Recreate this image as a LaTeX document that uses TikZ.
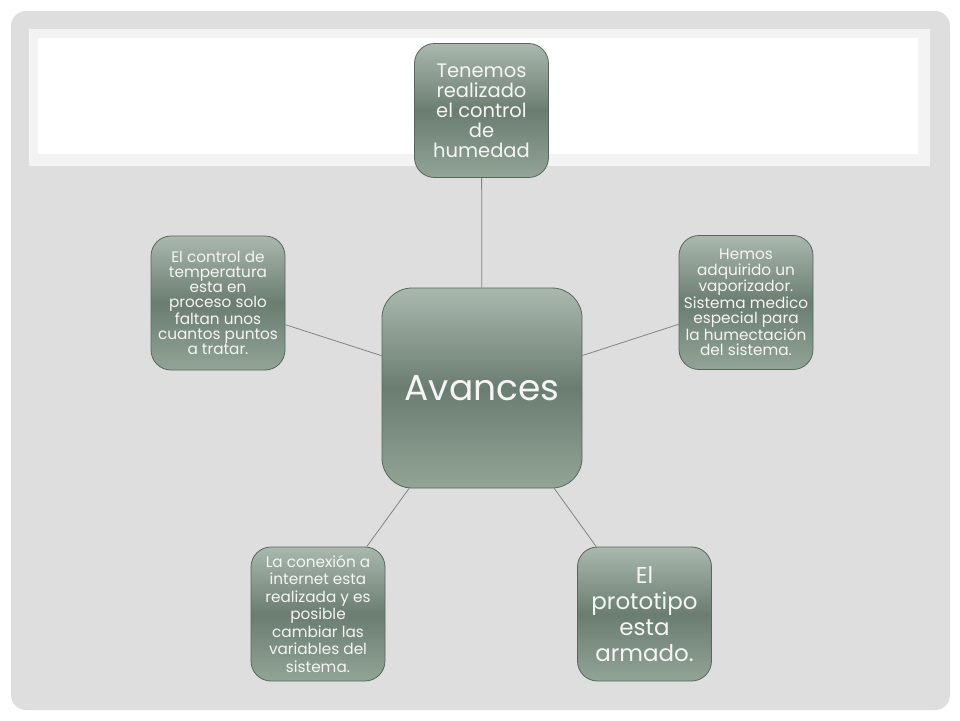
\documentclass[tikz,border=0pt]{standalone}
\usepackage{fontspec}
\setmainfont{Poppins}
\definecolor{bggray}{RGB}{222,222,222}
\definecolor{bandgray}{RGB}{243,243,243}
\definecolor{gTop}{RGB}{170,184,174}
\definecolor{gMid}{RGB}{107,125,113}
\definecolor{gBot}{RGB}{146,164,150}
\definecolor{boxedge}{RGB}{88,102,93}
\definecolor{linegray}{RGB}{125,135,130}
\definecolor{txt}{RGB}{245,245,245}
\begin{document}
\begin{tikzpicture}[x=1pt,y=-1pt,
  box/.style={draw=boxedge, line width=0.8pt, rounded corners=20pt,
    minimum width=134pt, minimum height=134pt, inner sep=0pt,
    top color=gTop, bottom color=gBot, middle color=gMid,
    text=txt, align=center},
  conn/.style={draw=linegray, line width=0.8pt}]
\useasboundingbox (0,0) rectangle (960,720);
\fill[white] (0,0) rectangle (960,720);
\fill[bggray, rounded corners=15pt] (11,11) rectangle (950,710);
\fill[bandgray] (29,29) rectangle (930,166);
\fill[white] (38,38) rectangle (918,154);
\node[box, minimum width=200pt, minimum height=200pt, rounded corners=30pt,
  font=\fontsize{36}{42}\selectfont] (c) at (482,388) {Avances};
\node[box, font=\fontsize{19.5}{20}\selectfont] (t) at (481.5,110.5)
  {Tenemos\\realizado\\el control\\de\\humedad};
\node[box, font=\fontsize{15.3}{15.2}\selectfont] (r) at (746,302.5)
  {Hemos\\adquirido un\\vaporizador.\\Sistema medico\\especial para\\la humectación\\del sistema.};
\node[box, font=\fontsize{15.3}{15.2}\selectfont] (l) at (218,303)
  {El control de\\temperatura\\esta en\\proceso solo\\faltan unos\\cuantos puntos\\a tratar.};
\node[box, font=\fontsize{15.3}{17.5}\selectfont] (bl) at (318,614)
  {La conexión a\\internet esta\\realizada y es\\posible\\cambiar las\\variables del\\sistema.};
\node[box, font=\fontsize{23}{26}\selectfont] (br) at (644.5,614)
  {El\\prototipo\\esta\\armado.};
\draw[conn] (c) -- (t);
\draw[conn] (c) -- (r);
\draw[conn] (c) -- (l);
\draw[conn] (c) -- (bl);
\draw[conn] (c) -- (br);
\end{tikzpicture}
\end{document}
